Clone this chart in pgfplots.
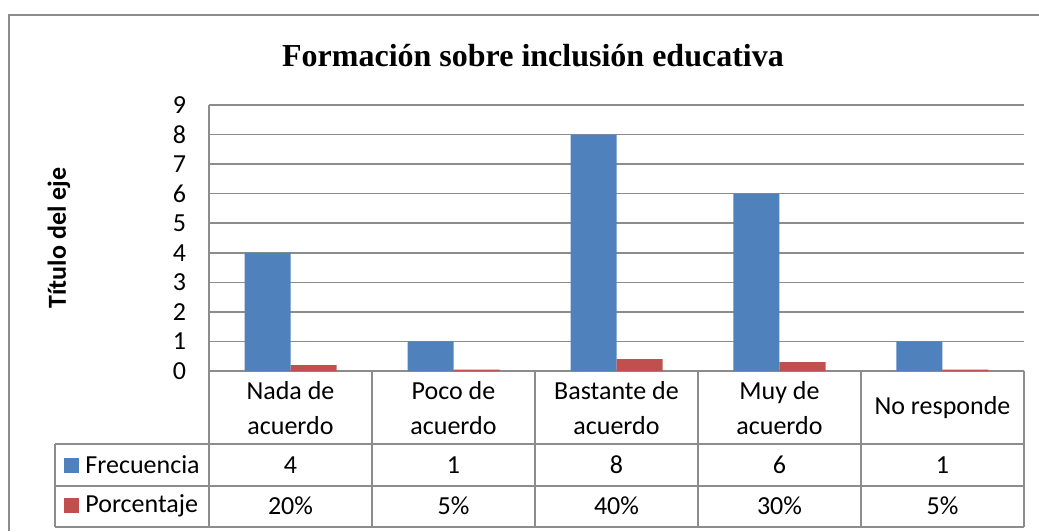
\documentclass[border=0pt]{standalone}
\usepackage{fontspec}
\setmainfont{Carlito}
\newfontfamily\titlefont{Liberation Serif}
\usepackage{pgfplots}
\pgfplotsset{compat=1.18}
\definecolor{serieA}{HTML}{4F81BD}
\definecolor{serieB}{HTML}{C0504D}
\definecolor{linea}{HTML}{8C8C8C}
\newcommand\celda{\fontsize{13}{17.5}\selectfont}

\begin{document}
% unidades: 1 px de la imagen = 0.5pt; y negativa hacia abajo
\begin{tikzpicture}[x=0.5pt,y=0.5pt]
\useasboundingbox (0,0) rectangle (1039,-531);
% marco exterior
\draw[linea, line width=1.2pt] (9,-531) -- (9,-15) -- (1039,-15);
\node[anchor=base, font=\titlefont\bfseries\fontsize{16}{19}\selectfont] at (533,-66) {Formación sobre inclusión educativa};
\node[rotate=90, font=\bfseries\celda] at (59,-238) {Título del eje};
\coordinate (origen) at (209,-371);

\begin{axis}[
  at={(origen)}, anchor=south west,
  scale only axis, width=407.5pt, height=133pt,
  ybar=0pt, bar width=23pt,
  xmin=-0.5, xmax=4.5, ymin=0, ymax=9,
  ytick={0,...,9}, xtick=\empty,
  axis x line=bottom, axis y line=left,
  axis line style={-, draw=linea, line width=0.8pt},
  ymajorgrids, major grid style={linea, line width=0.8pt},
  major tick length=0pt,
  /pgf/number format/assume math mode=true,
  yticklabel style={font=\celda, xshift=-8pt},
  clip=false,
]
\addplot[fill=serieA, draw=none] coordinates {(0,4) (1,1) (2,8) (3,6) (4,1)};
\addplot[fill=serieB, draw=none] coordinates {(0,0.20) (1,0.05) (2,0.40) (3,0.30) (4,0.05)};
\end{axis}

% tabla de datos
\foreach \xx in {209,372,535,698,861,1024}
  \draw[linea, line width=0.8pt] (\xx,-371) -- (\xx,-527);
\foreach \yy in {444,486,527}
  \draw[linea, line width=0.8pt] (55,-\yy) -- (1024,-\yy);
\draw[linea, line width=0.8pt] (55,-444) -- (55,-527);

\fill[serieA] (64,-458) rectangle (79,-473);
\fill[serieB] (64,-498) rectangle (79,-513);
\node[anchor=west, font=\celda, inner sep=0pt] at (85,-465) {Frecuencia};
\node[anchor=west, font=\celda, inner sep=0pt] at (85,-506) {Porcentaje};

\foreach \cx/\lab in {290.5/{Nada de\\acuerdo}, 453.5/{Poco de\\acuerdo}, 616.5/{Bastante de\\acuerdo}, 779.5/{Muy de\\acuerdo}, 942.5/{No responde}}
  \node[align=center, font=\celda] at (\cx,-408) {\lab};
\foreach \cx/\f/\p in {290.5/4/20, 453.5/1/5, 616.5/8/40, 779.5/6/30, 942.5/1/5} {
  \node[font=\celda] at (\cx,-465) {\f};
  \node[font=\celda] at (\cx,-506) {\p\%};
}
\end{tikzpicture}
\end{document}
